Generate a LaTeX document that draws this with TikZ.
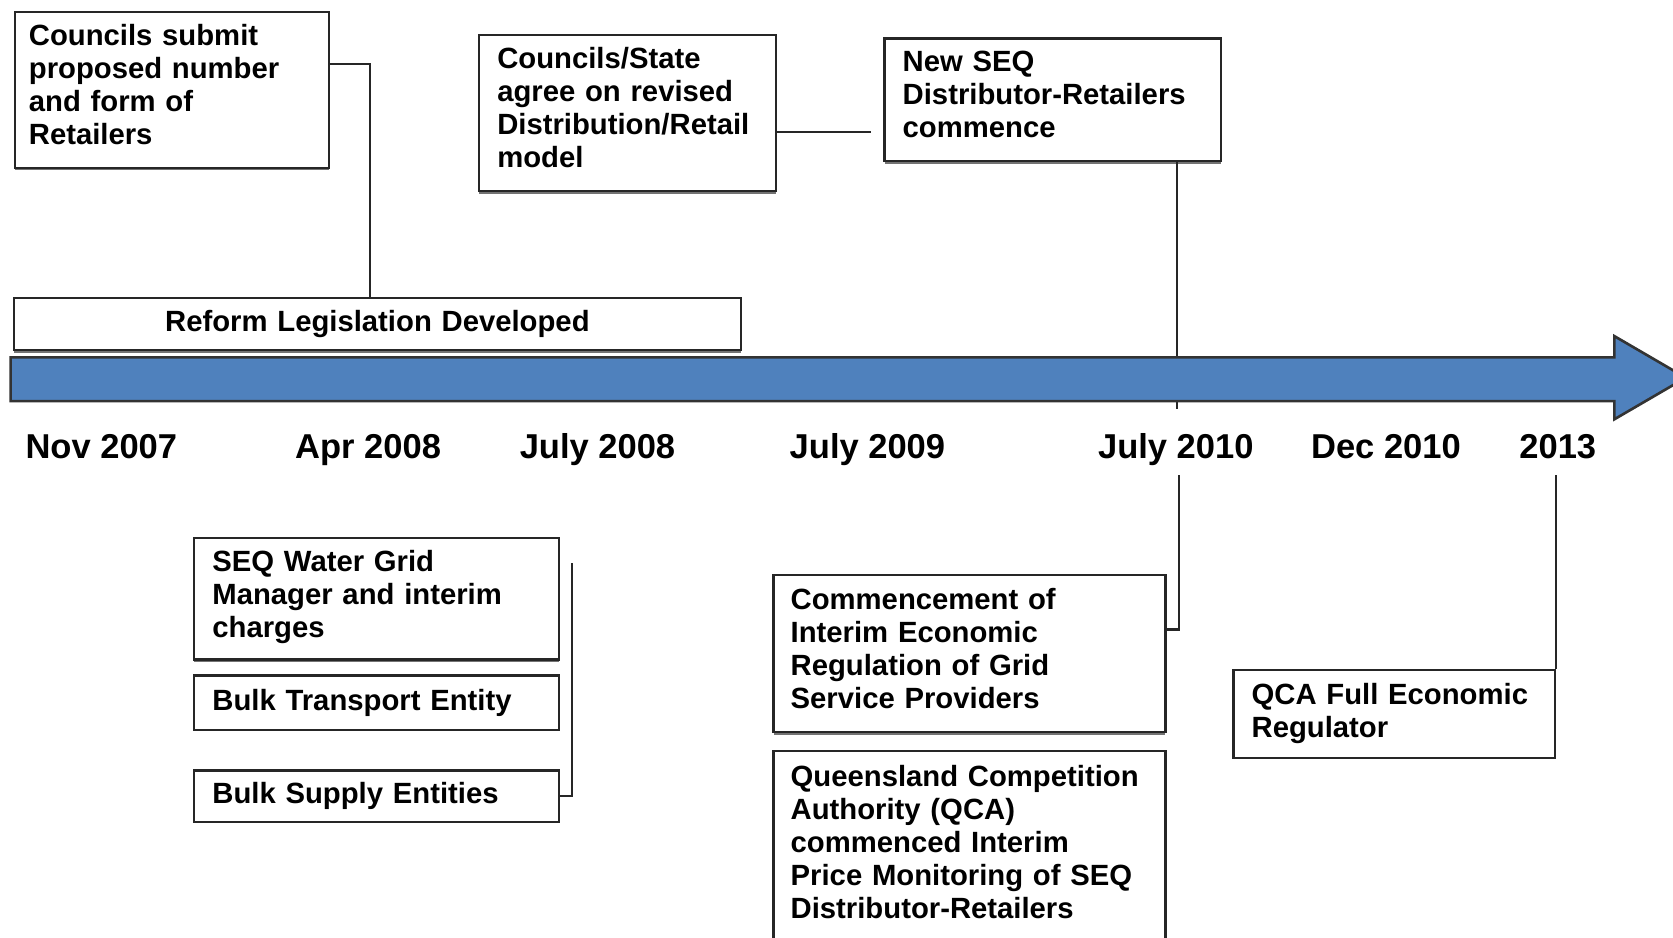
\documentclass[tikz,border=0pt]{standalone}
\usepackage{fontspec}
\setmainfont{Liberation Sans}
\usetikzlibrary{shadows}
\definecolor{timelineblue}{HTML}{4F81BD}
\tikzset{
  eventbox/.style={draw=black!85, line width=0.6pt, fill=white, anchor=north west,
    inner xsep=0.17cm, inner ysep=0pt, align=left,
    font=\fontsize{7.8}{8.8}\selectfont\bfseries},
  textlift/.style={execute at end node={\par\vspace{#1}}},
  shadowed/.style={drop shadow={shadow xshift=0pt, shadow yshift=-0.7pt,
    fill=black!55, opacity=1}},
  datelabel/.style={anchor=base, font=\fontsize{9.2}{11}\selectfont\bfseries},
  link/.style={draw=black!85, line width=0.6pt},
}
\begin{document}
\begin{tikzpicture}[x=0.01cm, y=-0.01cm]
  \useasboundingbox (0,0) rectangle (1568,879);

  % events above the time line
  \node[eventbox, shadowed, textlift=2.8pt, inner xsep=0.13cm, text width=2.68cm, minimum height=1.46cm] (submit) at (13,10)
    {Councils submit\\proposed number\\and form of\\Retailers};
  \node[eventbox, shadowed, textlift=2.8pt, text width=2.44cm, minimum height=1.46cm] (agree) at (448,32)
    {Councils/State\\agree on revised\\Distribution/Retail\\model};
  \node[eventbox, shadowed, textlift=2.8pt, text width=2.81cm, minimum height=1.15cm] (newseq) at (828,35)
    {New SEQ\\Distributor-Retailers\\commence};
  \node[eventbox, shadowed, align=center, text width=6.47cm, minimum height=0.49cm] (reform) at (12,278)
    {Reform Legislation Developed};

  % events below the time line
  \node[eventbox, shadowed, textlift=1.1pt, text width=3.08cm, minimum height=1.14cm] (grid) at (181,503)
    {SEQ Water Grid\\Manager and interim\\charges};
  \node[eventbox, text width=3.08cm, minimum height=0.51cm] (transport) at (181,632)
    {Bulk Transport Entity};
  \node[eventbox, text width=3.08cm, minimum height=0.48cm] (supply) at (181,721)
    {Bulk Supply Entities};
  \node[eventbox, shadowed, textlift=2.8pt, inner xsep=0.16cm, text width=3.35cm, minimum height=1.47cm] (interim) at (724,538)
    {Commencement of\\Interim Economic\\Regulation of Grid\\Service Providers};
  \node[eventbox, textlift=2.8pt, inner xsep=0.16cm, text width=3.35cm, minimum height=1.80cm] (qca) at (724,703)
    {Queensland Competition\\Authority (QCA)\\commenced Interim\\Price Monitoring of SEQ\\Distributor-Retailers};
  \node[eventbox, text width=2.67cm, minimum height=0.82cm] (full) at (1155,627)
    {QCA Full Economic\\Regulator};

  % dates
  \node[datelabel] (d2007) at (95,430) {Nov 2007};
  \node[datelabel] (d2008a) at (345,430) {Apr 2008};
  \node[datelabel] (d2008b) at (560,430) {July 2008};
  \node[datelabel] (d2009) at (813,430) {July 2009};
  \node[datelabel] (d2010a) at (1102,430) {July 2010};
  \node[datelabel] (d2010b) at (1299,430) {Dec 2010};
  \node[datelabel] (d2013) at (1460,430) {2013};

  % loose ends of the connectors
  \coordinate (gap) at (816,124);
  \coordinate (tick2010) at (1103,383);
  \coordinate (bracket) at (536,528);
  \coordinate (up2010) at (1105,445);

  \begin{scope}[link]
    \draw (submit.east |- 0,60) -| (reform.north -| 347,0);
    \draw (agree.east |- 0,124) -- (gap);
    \draw (newseq.south -| tick2010) -- (tick2010);
    \draw (bracket) |- (supply.east);
    \draw (interim.east |- 0,590) -| (up2010);
    \draw (full.north east) -- (full.north east |- up2010);
  \end{scope}

  % time line arrow
  \draw[fill=timelineblue, draw=black!80, line width=0.7pt]
    (10,335) -- (1513,335) -- (1513,315) -- (1580,354) -- (1513,393)
    -- (1513,376) -- (10,376) -- cycle;
\end{tikzpicture}
\end{document}
